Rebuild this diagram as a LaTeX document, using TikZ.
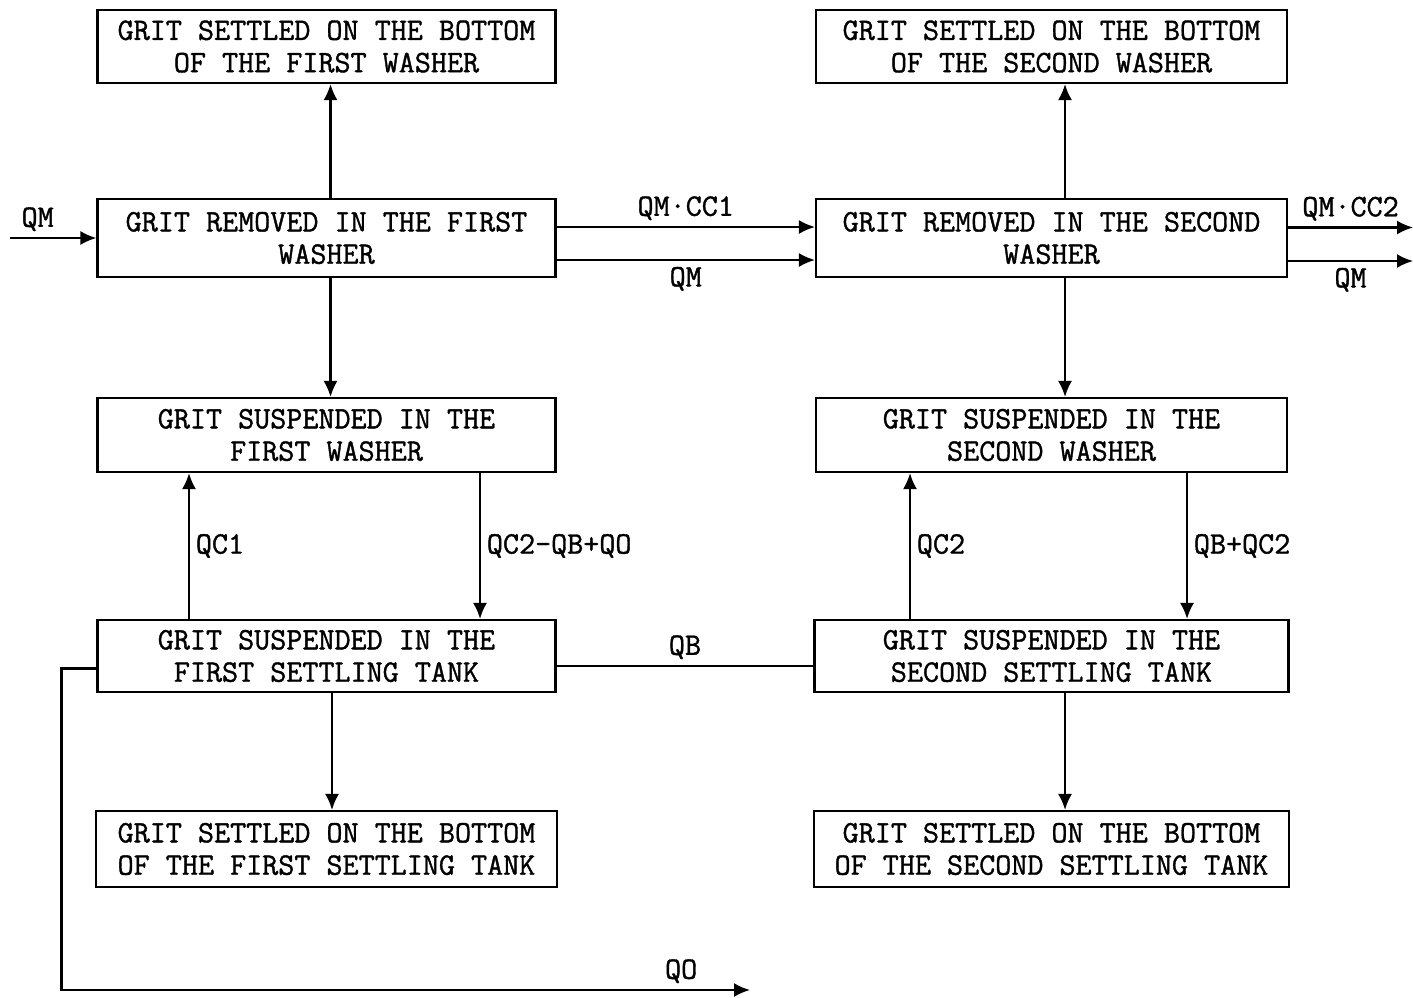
\documentclass[tikz,border=0pt]{standalone}
\usepackage{fontspec}
\setmainfont{Latin Modern Mono}[FakeBold=1.2]
\usetikzlibrary{arrows.meta, positioning}

\begin{document}
\begin{tikzpicture}[
  every node/.style={font=\fontsize{17.75}{18.4}\selectfont},
  box/.style={draw, line width=1.2pt, minimum width=9.16cm, minimum height=1.46cm,
              align=center, inner sep=2pt},
  flow/.style={line width=1.2pt, -{Latex[length=0.32cm, width=0.28cm]}},
  pipe/.style={line width=1.2pt}
]
\useasboundingbox (0,0) rectangle (28.26,-19.94);

% First washer and first settling tank (left column)
\node[box] (sw1) at (6.53,-0.93) {GRIT SETTLED ON THE BOTTOM\\OF THE FIRST WASHER};
\node[box, minimum height=1.56cm] (rw1) at (6.53,-4.76) {GRIT REMOVED IN THE FIRST\\WASHER};
\node[box, minimum height=1.48cm] (uw1) at (6.53,-8.70) {GRIT SUSPENDED IN THE\\FIRST WASHER};
\node[box, minimum height=1.44cm] (ut1) at (6.53,-13.12) {GRIT SUSPENDED IN THE\\FIRST SETTLING TANK};
\node[box, minimum width=9.22cm, minimum height=1.52cm] (st1) at (6.53,-16.98)
  {GRIT SETTLED ON THE BOTTOM\\OF THE FIRST SETTLING TANK};

% Second washer and second settling tank (right column)
\node[box, minimum width=9.42cm] (sw2) at (21.03,-0.93) {GRIT SETTLED ON THE BOTTOM\\OF THE SECOND WASHER};
\node[box, minimum width=9.42cm, minimum height=1.56cm] (rw2) at (21.03,-4.76) {GRIT REMOVED IN THE SECOND\\WASHER};
\node[box, minimum width=9.42cm, minimum height=1.48cm] (uw2) at (21.03,-8.70) {GRIT SUSPENDED IN THE\\SECOND WASHER};
\node[box, minimum width=9.48cm, minimum height=1.44cm] (ut2) at (21.03,-13.12) {GRIT SUSPENDED IN THE\\SECOND SETTLING TANK};
\node[box, minimum width=9.50cm, minimum height=1.52cm] (st2) at (21.03,-16.98)
  {GRIT SETTLED ON THE BOTTOM\\OF THE SECOND SETTLING TANK};

% Free ends of the inflow and outflow lines
\coordinate (qmin) at (0.2,-4.76);
\coordinate (out1) at (28.26,-4.55);
\coordinate (out2) at (28.26,-5.22);
\coordinate (qo) at (15.0,-19.8);

% Inflow and flows between the washers
\draw[flow] (qmin) -- (rw1.west) node[pos=0.32, above] {QM};
\draw[flow] ([yshift=0.22cm]rw1.east) -- ([yshift=0.22cm]rw2.west) node[midway, above] {QM·CC1};
\draw[flow] ([yshift=-0.44cm]rw1.east) -- ([yshift=-0.44cm]rw2.west) node[midway, below] {QM};
\draw[flow] (rw2.east |- out1) -- (out1) node[midway, above] {QM·CC2};
\draw[flow] (rw2.east |- out2) -- (out2) node[midway, below] {QM};

% Vertical flows, left column
\draw[flow] ([xshift=0.08cm]rw1.north) -- ([xshift=0.08cm]sw1.south);
\draw[flow] ([xshift=0.08cm]rw1.south) -- ([xshift=0.08cm]uw1.north);
\draw[flow] ([xshift=-2.75cm]ut1.north) -- ([xshift=-2.75cm]uw1.south) node[midway, right] {QC1};
\draw[flow] ([xshift=3.07cm]uw1.south) -- ([xshift=3.07cm]ut1.north) node[midway, right] {QC2--QB+QO};
\draw[flow] ([xshift=0.11cm]ut1.south) -- ([xshift=0.11cm]st1.north);

% Vertical flows, right column
\draw[flow] ([xshift=0.27cm]rw2.north) -- ([xshift=0.27cm]sw2.south);
\draw[flow] ([xshift=0.27cm]rw2.south) -- ([xshift=0.27cm]uw2.north);
\draw[flow] ([xshift=-2.83cm]ut2.north) -- ([xshift=-2.83cm]uw2.south) node[midway, right] {QC2};
\draw[flow] ([xshift=2.71cm]uw2.south) -- ([xshift=2.71cm]ut2.north) node[midway, right] {QB+QC2};
\draw[flow] ([xshift=0.27cm]ut2.south) -- ([xshift=0.27cm]st2.north);

% Exchange between the settling tanks and the overflow
\draw[pipe] ([yshift=-0.2cm]ut1.east) -- ([yshift=-0.2cm]ut2.west) node[midway, above] {QB};
\draw[flow] ([yshift=-0.25cm]ut1.west) -- ++(-0.70,0) |- (qo) node[pos=0.95, above] {QO};

\end{tikzpicture}
\end{document}
